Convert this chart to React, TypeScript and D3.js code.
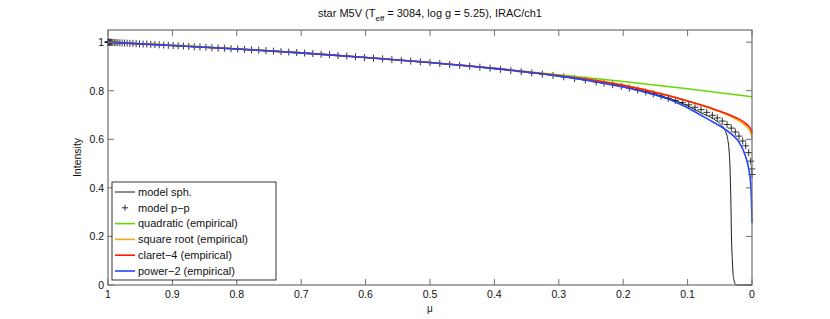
import * as d3 from 'd3';

// model sph. (thin black line)
const MU_SPH = [1, 0.9, 0.8, 0.7, 0.6, 0.5, 0.4, 0.3, 0.2, 0.15, 0.1, 0.08, 0.06, 0.05, 0.042, 0.038, 0.0357, 0.0342, 0.033, 0.0318, 0.0305, 0.0295, 0.028, 0.0265, 0.025, 0];
const I_SPH = [1.0, 0.986, 0.972, 0.956, 0.937, 0.916, 0.891, 0.86, 0.816, 0.786, 0.738, 0.71, 0.684, 0.665, 0.638, 0.604, 0.556, 0.487, 0.37, 0.19, 0.1, 0.05, 0.02, 0.007, 0.0, 0.0];

// model p-p (crosses)
const MU_PP = [
  1.0, 0.9998, 0.9994, 0.9986, 0.9976, 0.9962, 0.9945, 0.9925, 0.9903, 0.9877,
  0.9848, 0.9816, 0.9781, 0.9744, 0.9703, 0.9659, 0.9613, 0.9563, 0.9511, 0.9455,
  0.9397, 0.9336, 0.9272, 0.9205, 0.9135, 0.9063, 0.8988, 0.891, 0.8829, 0.8746,
  0.866, 0.8572, 0.848, 0.8387, 0.829, 0.8192, 0.809, 0.7986, 0.788, 0.7771,
  0.766, 0.7547, 0.7431, 0.7314, 0.7193, 0.7071, 0.6947, 0.682, 0.6691, 0.6561,
  0.6428, 0.6293, 0.6157, 0.6018, 0.5878, 0.5736, 0.5592, 0.5446, 0.5299, 0.515,
  0.5, 0.4848, 0.4695, 0.454, 0.4384, 0.4226, 0.4067, 0.3907, 0.3746, 0.3584,
  0.342, 0.3256, 0.309, 0.2924, 0.2756, 0.2588, 0.2419, 0.2298, 0.2163, 0.203,
  0.1905, 0.1775, 0.165, 0.1533, 0.1413, 0.13, 0.1191, 0.1082, 0.0983, 0.0885,
  0.0792, 0.0703, 0.0616, 0.0539, 0.0461, 0.0388, 0.0321, 0.0259, 0.0202, 0.0144,
  0.0098, 0.0051, 0.002, 0.0005, 0
];
const I_PP = [
  1.0, 1.0, 1.0, 1.0, 1.0, 0.999, 0.999, 0.999, 0.999, 0.998,
  0.998, 0.997, 0.997, 0.996, 0.996, 0.995, 0.995, 0.994, 0.993, 0.992,
  0.992, 0.991, 0.99, 0.989, 0.988, 0.987, 0.986, 0.985, 0.984, 0.982,
  0.981, 0.98, 0.979, 0.977, 0.976, 0.975, 0.973, 0.972, 0.97, 0.968,
  0.967, 0.965, 0.963, 0.961, 0.959, 0.957, 0.955, 0.953, 0.95, 0.948,
  0.945, 0.943, 0.94, 0.937, 0.934, 0.931, 0.928, 0.925, 0.922, 0.919,
  0.916, 0.912, 0.908, 0.905, 0.901, 0.897, 0.893, 0.888, 0.883, 0.878,
  0.873, 0.868, 0.863, 0.857, 0.85, 0.844, 0.836, 0.831, 0.825, 0.818,
  0.811, 0.803, 0.795, 0.787, 0.778, 0.769, 0.76, 0.751, 0.742, 0.732,
  0.722, 0.711, 0.699, 0.688, 0.675, 0.661, 0.646, 0.63, 0.613, 0.593,
  0.573, 0.545, 0.51, 0.478, 0.455
];

// quadratic (empirical)
const MU_QUAD = [1, 0.9, 0.8, 0.7, 0.6, 0.5, 0.4, 0.3, 0.2, 0.1, 0];
const I_QUAD = [1.0, 0.988, 0.973, 0.956, 0.937, 0.916, 0.892, 0.866, 0.838, 0.808, 0.775];

// square root, claret-4, power-2 (empirical)
const MU_FIT = [1, 0.9, 0.8, 0.7, 0.6, 0.5, 0.4, 0.3, 0.25, 0.2, 0.15, 0.12, 0.1, 0.08, 0.06, 0.04, 0.03, 0.02, 0.01, 0.005, 0.002, 0.001, 0];
const I_SQRT = [1.0, 0.987, 0.972, 0.956, 0.937, 0.916, 0.892, 0.862, 0.845, 0.823, 0.794, 0.773, 0.758, 0.741, 0.723, 0.703, 0.69, 0.676, 0.656, 0.642, 0.628, 0.619, 0.605];
const I_CLARET = [1.0, 0.986, 0.972, 0.956, 0.937, 0.916, 0.892, 0.862, 0.845, 0.822, 0.793, 0.773, 0.758, 0.742, 0.725, 0.706, 0.695, 0.683, 0.666, 0.654, 0.643, 0.636, 0.625];
const I_POWER2 = [1.0, 0.986, 0.972, 0.956, 0.937, 0.916, 0.891, 0.86, 0.84, 0.815, 0.782, 0.755, 0.73, 0.7, 0.67, 0.638, 0.617, 0.588, 0.53, 0.478, 0.415, 0.36, 0.255];

const X_TICKS = [1, 0.9, 0.8, 0.7, 0.6, 0.5, 0.4, 0.3, 0.2, 0.1, 0];
const Y_TICKS = [0, 0.2, 0.4, 0.6, 0.8, 1];

const LEGEND = [
  { label: 'model sph.', color: '#000', kind: 'line' },
  { label: 'model p\u2212p', color: '#000', kind: 'cross' },
  { label: 'quadratic (empirical)', color: '#66d800', kind: 'line' },
  { label: 'square root (empirical)', color: '#f0a81c', kind: 'line' },
  { label: 'claret\u22124 (empirical)', color: '#ff1a00', kind: 'line' },
  { label: 'power\u22122 (empirical)', color: '#2244ff', kind: 'line' },
];

const W = 830;
const H = 319;
const margin = { top: 30, right: 78, bottom: 34, left: 108 };
const FONT = '"Liberation Sans", Arial, Helvetica, sans-serif';
const AXIS = '#6e6e6e';

const App = () => {
  const x = d3.scaleLinear().domain([1, 0]).range([margin.left, W - margin.right]);
  const y = d3.scaleLinear().domain([0, 1.05]).range([H - margin.bottom, margin.top]);

  const line = d3.line<[number, number]>()
    .x(d => x(d[0]))
    .y(d => y(d[1]))
    .curve(d3.curveMonotoneX);

  const pts = (mu: number[], v: number[]) => mu.map((m, i) => [m, v[i]] as [number, number]);

  const x0 = margin.left;
  const x1 = W - margin.right;
  const y0 = H - margin.bottom;
  const y1 = margin.top;
  const tick = 6;

  const fits = [
    { d: pts(MU_QUAD, I_QUAD), color: LEGEND[2].color },
    { d: pts(MU_FIT, I_SQRT), color: LEGEND[3].color },
    { d: pts(MU_FIT, I_CLARET), color: LEGEND[4].color },
    { d: pts(MU_FIT, I_POWER2), color: LEGEND[5].color },
  ];

  const lg = { x: 112, y: 182, w: 164, h: 98, row: 15.8 };

  return (
    <svg width={W} height={H} style={{ position: 'absolute', left: 0, top: 0, background: '#fff' }}
      fontFamily={FONT}>
      <rect x={0} y={0} width={W} height={H} fill="#fff" />

      {/* title */}
      <text x={(x0 + x1) / 2} y={17} textAnchor="middle" fontSize={11} fill="#111">
        star M5V (T<tspan fontSize={8} dy={4}>eff</tspan><tspan dy={-4}> = 3084, log g = 5.25), IRAC/ch1</tspan>
      </text>

      {/* model sph. */}
      <path d={line(pts(MU_SPH, I_SPH)) || ''} fill="none" stroke="#000" strokeWidth={0.9} />

      {/* model p-p crosses */}
      {MU_PP.map((m, i) => (
        <path key={i}
          d={`M${x(m) - 3.5},${y(I_PP[i])}h7M${x(m)},${y(I_PP[i]) - 3.5}v7`}
          stroke="#000" strokeWidth={0.8} fill="none" />
      ))}

      {fits.map((f, i) => (
        <path key={i} d={line(f.d) || ''} fill="none" stroke={f.color} strokeWidth={1.6} />
      ))}

      {/* axes box */}
      <rect x={x0} y={y1} width={x1 - x0} height={y0 - y1} fill="none" stroke={AXIS} strokeWidth={1.2} />
      {X_TICKS.map(t => (
        <g key={'x' + t}>
          <line x1={x(t)} x2={x(t)} y1={y0} y2={y0 - tick} stroke={AXIS} strokeWidth={1} />
          <line x1={x(t)} x2={x(t)} y1={y1} y2={y1 + tick} stroke={AXIS} strokeWidth={1} />
          <text x={x(t)} y={298} textAnchor="middle" fontSize={10.5} fill="#111">{String(t)}</text>
        </g>
      ))}
      {Y_TICKS.map(t => (
        <g key={'y' + t}>
          <line x1={x0} x2={x0 + tick} y1={y(t)} y2={y(t)} stroke={AXIS} strokeWidth={1} />
          <line x1={x1} x2={x1 - tick} y1={y(t)} y2={y(t)} stroke={AXIS} strokeWidth={1} />
          <text x={104} y={y(t) + 3.8} textAnchor="end" fontSize={10.5} fill="#111">{String(t)}</text>
        </g>
      ))}

      <text x={(x0 + x1) / 2} y={312} textAnchor="middle" fontSize={10} fill="#111">μ</text>
      <text transform={`translate(81,${(y0 + y1) / 2}) rotate(-90)`} textAnchor="middle" fontSize={10.5} fill="#111">Intensity</text>

      {/* legend */}
      <rect x={lg.x} y={lg.y} width={lg.w} height={lg.h} fill="#fff" stroke="#000" strokeWidth={0.8} />
      {LEGEND.map((item, i) => {
        const cy = lg.y + 10 + i * lg.row;
        return (
          <g key={item.label}>
            {item.kind === 'line'
              ? <line x1={115} x2={135} y1={cy} y2={cy} stroke={item.color} strokeWidth={i === 0 ? 0.9 : 1.6} />
              : <path d={`M${125 - 3},${cy}h6M125,${cy - 3}v6`} stroke="#000" strokeWidth={0.8} />}
            <text x={138} y={cy + 3.8} fontSize={11} fill="#111">{item.label}</text>
          </g>
        );
      })}
    </svg>
  );
};

export default App;
